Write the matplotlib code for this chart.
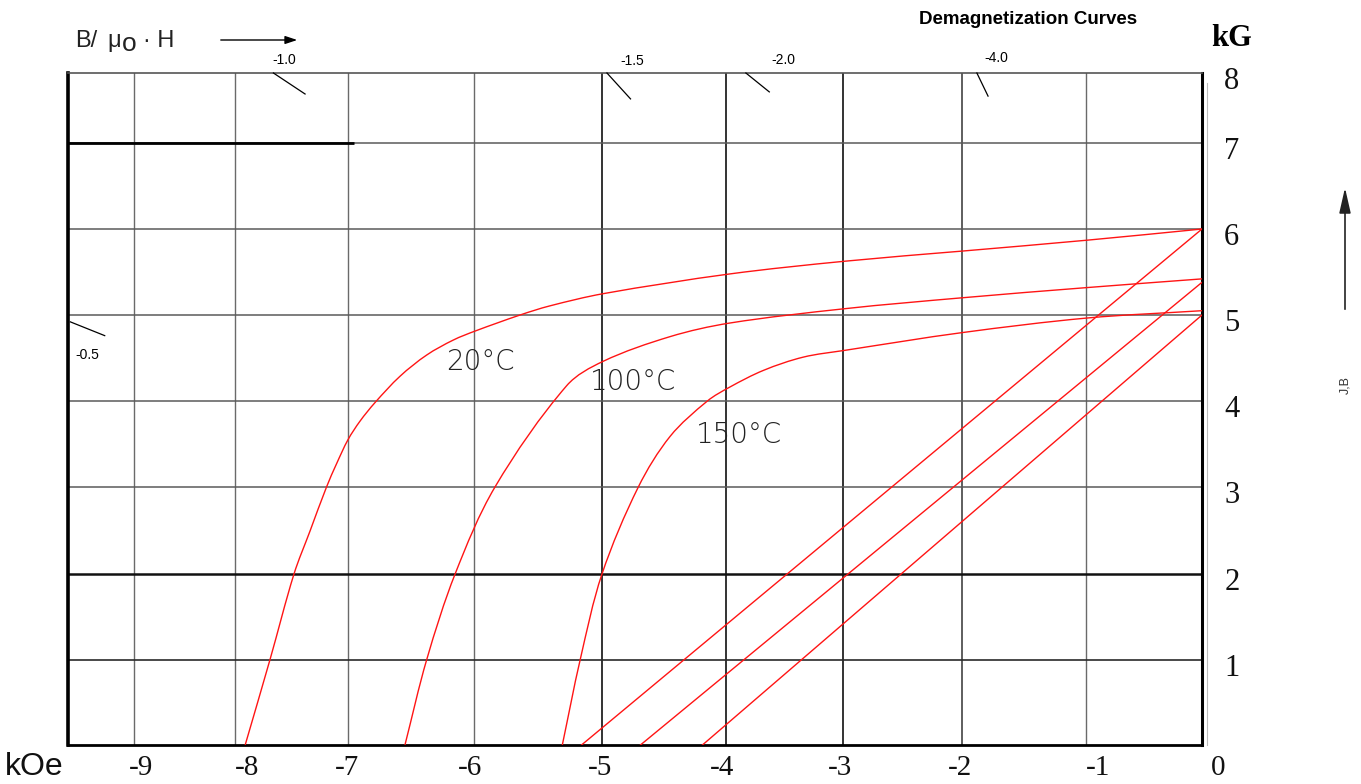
"""
Demagnetization curves (J and B against H) for three temperatures,
redrawn from a scanned datasheet chart.

The scanned grid is not evenly spaced, so both axes use a piecewise
linear FuncScale fitted to where the grid lines sit in the scan.
"""
import numpy as np
import matplotlib

matplotlib.use("Agg")
import matplotlib.pyplot as plt
import matplotlib.transforms as mtransforms
from matplotlib.path import Path
from matplotlib.patches import PathPatch

# ---- data: H in kOe, J/B in kG --------------------------------------------
H_20C = [0, -0.99, -2.0, -2.98, -3.97, -4.99, -5.41, -5.64, -5.99, -6.164,
         -6.375, -6.587, -6.786, -6.905, -7.0, -7.10, -7.19, -7.336, -7.478,
         -7.69, -7.91]
B_20C = [6.0, 5.87, 5.743, 5.626, 5.477, 5.248, 5.105, 5.0, 4.814, 4.709,
         4.535, 4.288, 3.981, 3.765, 3.55, 3.274, 3.0, 2.494, 2.0,
         1.0, 0.0]

H_100C = [0, -0.99, -2.0, -2.98, -3.97, -4.45, -4.99, -5.276, -5.836,
          -6.15, -6.375, -6.548]
B_100C = [5.42, 5.319, 5.2, 5.074, 4.906, 4.749, 4.462, 4.178, 3.0,
          2.0, 1.0, 0.0]

H_150C = [0, -0.99, -2.0, -2.98, -3.34, -3.68, -3.97, -4.15, -4.45, -4.707,
          -5.0, -5.17, -5.31]
B_150C = [5.05, 4.965, 4.795, 4.59, 4.51, 4.356, 4.16, 4.0, 3.59, 3.0,
          2.0, 1.0, 0.0]

CURVE_LABELS = ["20°C", "100°C", "150°C"]
LABEL_H = [-5.95, -4.75, -3.89]
LABEL_B = [4.45, 4.22, 3.60]

# straight B lines: B at H = 0 and the H where B reaches 0
LINE_B_AT_0 = [6.0, 5.38, 5.0]
LINE_H_AT_B0 = [-5.16, -4.69, -4.19]

# permeance coefficient (B/mu0 H) marks around the border
PC_LABELS = ["-0.5", "-1.0", "-1.5", "-2.0", "-4.0"]
PC_H0 = [-9.63, -7.66, -4.96, -3.83, -1.88]
PC_B0 = [4.92, 8.0, 8.0, 8.0, 8.0]
PC_H1 = [-9.29, -7.38, -4.77, -3.63, -1.79]
PC_B1 = [4.76, 7.70, 7.63, 7.73, 7.67]
PC_TEXT_H = [-9.46, -7.56, -4.76, -3.51, -1.72]
PC_TEXT_B = [4.53, 8.19, 8.17, 8.19, 8.21]

X_TICKS = [-9, -8, -7, -6, -5, -4, -3, -2, -1, 0]
X_TICKLABELS = ["-9", "-8", "-7", "-6", "-5", "-4", "-3", "-2", "-1", "0"]
Y_TICKS = [1, 2, 3, 4, 5, 6, 7, 8]
Y_TICKLABELS = ["1", "2", "3", "4", "5", "6", "7", "8"]

# ---- layout of the scanned grid (pixel rows / columns) ---------------------
W, H = 1361, 784
X_GRID_PX = [134, 235, 348, 474, 602, 726, 843, 962, 1086, 1202]
Y_GRID_PX = [745, 659.5, 574, 487, 401, 315, 229, 143, 73]
AX_LEFT, AX_RIGHT, AX_TOP, AX_BOTTOM = 68, 1202, 73, 745
# the printed tick numbers are not quite centred on their grid lines
X_LABEL_SHIFT_PX = [7, 12, -1, -4, -2, -4, -3, -2, 12, 16]


def _piecewise(xp, fp):
    xp = np.asarray(xp, float)
    fp = np.asarray(fp, float)
    s0 = (fp[1] - fp[0]) / (xp[1] - xp[0])
    s1 = (fp[-1] - fp[-2]) / (xp[-1] - xp[-2])

    def f(v):
        v = np.asarray(v, float)
        return np.where(v < xp[0], fp[0] + (v - xp[0]) * s0,
                        np.where(v > xp[-1], fp[-1] + (v - xp[-1]) * s1,
                                 np.interp(v, xp, fp)))
    return f


x_pos = np.asarray(X_GRID_PX, float)
y_pos = AX_BOTTOM - np.asarray(Y_GRID_PX, float)
x_knots = np.asarray(X_TICKS, float)
y_knots = np.arange(0, 9, dtype=float)
fx, ix = _piecewise(x_knots, x_pos), _piecewise(x_pos, x_knots)
fy, iy = _piecewise(y_knots, y_pos), _piecewise(y_pos, y_knots)


def smooth_path(hh, bb):
    """Chordal Catmull-Rom through the read points, built in scaled space
    so the drawn curve is smooth on screen, then given back in data units."""
    p = np.column_stack([fx(hh), fy(bb)])
    n = len(p)
    d = np.hypot(*np.diff(p, axis=0).T)
    t = np.concatenate([[0], np.cumsum(d)])
    m = np.empty_like(p)
    m[0] = (p[1] - p[0]) / d[0]
    m[-1] = (p[-1] - p[-2]) / d[-1]
    m[1:-1] = (p[2:] - p[:-2]) / (t[2:] - t[:-2])[:, None]
    verts, codes = [p[0]], [Path.MOVETO]
    for i in range(n - 1):
        verts += [p[i] + m[i] * d[i] / 3, p[i + 1] - m[i + 1] * d[i] / 3,
                  p[i + 1]]
        codes += [Path.CURVE4] * 3
    verts = np.asarray(verts)
    return Path(np.column_stack([ix(verts[:, 0]), iy(verts[:, 1])]), codes)


SERIF = "Liberation Serif"
SANS = "Liberation Sans"
RED = "#ff1414"

fig = plt.figure(figsize=(W / 100, H / 100), dpi=100)
ax = fig.add_axes([AX_LEFT / W, 1 - AX_BOTTOM / H,
                   (AX_RIGHT - AX_LEFT) / W, (AX_BOTTOM - AX_TOP) / H])
ax.set_xscale("function", functions=(fx, ix))
ax.set_yscale("function", functions=(fy, iy))
x_min = float(ix(AX_LEFT))
ax.set_xlim(x_min, 0)
ax.set_ylim(0, 8)

# grid, copying the mix of grey and black lines in the scan
for xv in X_TICKS[:-1]:
    if xv in (-5, -4, -3):
        ax.axvline(xv, color="#111111", lw=1.2, zorder=1)
    elif xv == -2:
        ax.axvline(xv, color="#333333", lw=1.1, zorder=1)
    else:
        ax.axvline(xv, color="#6a6a6a", lw=1.0, zorder=1)
for yv in Y_TICKS[:-1]:
    if yv == 2:
        ax.axhline(yv, color="#111111", lw=1.8, zorder=1)
    elif yv == 1:
        ax.axhline(yv, color="#2a2a2a", lw=1.2, zorder=1)
    else:
        ax.axhline(yv, color="#5a5a5a", lw=1.1, zorder=1)
ax.plot([x_min, -6.95], [7, 7], color="black", lw=2.0, zorder=2,
        solid_capstyle="butt")

for side, lw, col in (("left", 2.6, "black"), ("bottom", 2.0, "black"),
                      ("right", 2.2, "black"), ("top", 1.2, "#555555")):
    ax.spines[side].set_linewidth(lw)
    ax.spines[side].set_color(col)
ax.axvline(0.045, ymin=0, ymax=0.985, color="#bbbbbb", lw=0.8,
           clip_on=False, zorder=1)

# curves
for hh, bb in ((H_20C, B_20C), (H_100C, B_100C), (H_150C, B_150C)):
    ax.add_patch(PathPatch(smooth_path(hh, bb), fill=False, edgecolor=RED,
                           lw=1.0, zorder=3))
for b0, h0 in zip(LINE_B_AT_0, LINE_H_AT_B0):
    ax.plot([0, h0], [b0, 0], color=RED, lw=1.0, zorder=3)
for txt, hx, by in zip(CURVE_LABELS, LABEL_H, LABEL_B):
    ax.text(hx, by, txt, ha="center", va="center", fontsize=20,
            family="DejaVu Sans", weight="light", color="#222222", zorder=4)

# permeance marks
for h0, b0, h1, b1 in zip(PC_H0, PC_B0, PC_H1, PC_B1):
    ax.plot([h0, h1], [b0, b1], color="black", lw=0.9, clip_on=False,
            zorder=4)
for txt, hx, by in zip(PC_LABELS, PC_TEXT_H, PC_TEXT_B):
    ax.text(hx, by, txt, ha="center", va="center", fontsize=10,
            family=SANS, clip_on=False)

# ticks
ax.set_xticks(X_TICKS, labels=X_TICKLABELS)
ax.set_yticks(Y_TICKS, labels=Y_TICKLABELS)
ax.yaxis.tick_right()
ax.tick_params(axis="x", length=0, pad=7, labelsize=21)
ax.tick_params(axis="y", length=0, pad=16, labelsize=22)
for lab, dx in zip(ax.get_xticklabels(), X_LABEL_SHIFT_PX):
    lab.set_family(SERIF)
    lab.set_color("#111111")
    lab.set_transform(lab.get_transform() + mtransforms.ScaledTranslation(
        dx / 100, 0, fig.dpi_scale_trans))
for lab in ax.get_yticklabels():
    lab.set_family(SERIF)
    lab.set_color("#111111")
    lab.set_transform(lab.get_transform() + mtransforms.ScaledTranslation(
        0, -5 / 100, fig.dpi_scale_trans))

# titles and axis names
fig.text(5 / W, 1 - 767 / H, "kOe", fontsize=23, family=SANS,
         ha="left", va="center", color="#111111")
fig.text(1232 / W, 1 - 38 / H, "kG", fontsize=22, family=SERIF,
         weight="bold", ha="center", va="center")
fig.text(1028 / W, 1 - 20 / H, "Demagnetization Curves", fontsize=13.5,
         family=SANS, weight="bold", ha="center", va="center")
fig.text(75 / W, 1 - 47 / H, "B/", fontsize=17, family=SANS,
         ha="left", va="baseline", color="#222222")
fig.text(107 / W, 1 - 47 / H, "\u03bc", fontsize=17, family=SANS,
         ha="left", va="baseline", color="#222222")
fig.text(122 / W, 1 - 51 / H, "o", fontsize=19, family=SANS,
         ha="left", va="baseline", color="#222222")
fig.text(143 / W, 1 - 47 / H, "\u00b7 H", fontsize=17, family=SANS,
         ha="left", va="baseline", color="#222222")
fig.text(1345 / W, 1 - 385 / H, "J,B", fontsize=9, family=SANS,
         rotation=90, ha="center", va="center", color="#333333")

ax.annotate("", xy=(300 / W, 1 - 40 / H), xytext=(218 / W, 1 - 40 / H),
            xycoords="figure fraction", textcoords="figure fraction",
            arrowprops=dict(arrowstyle="-|>,head_length=0.6,head_width=0.2",
                            color="black", lw=1.0, mutation_scale=12))
ax.annotate("", xy=(1345 / W, 1 - 185 / H), xytext=(1345 / W, 1 - 312 / H),
            xycoords="figure fraction", textcoords="figure fraction",
            arrowprops=dict(arrowstyle="-|>,head_length=1.1,head_width=0.25",
                            color="#222222", lw=1.2, mutation_scale=14))

fig.savefig("out.png", dpi=100)
plt.close(fig)
